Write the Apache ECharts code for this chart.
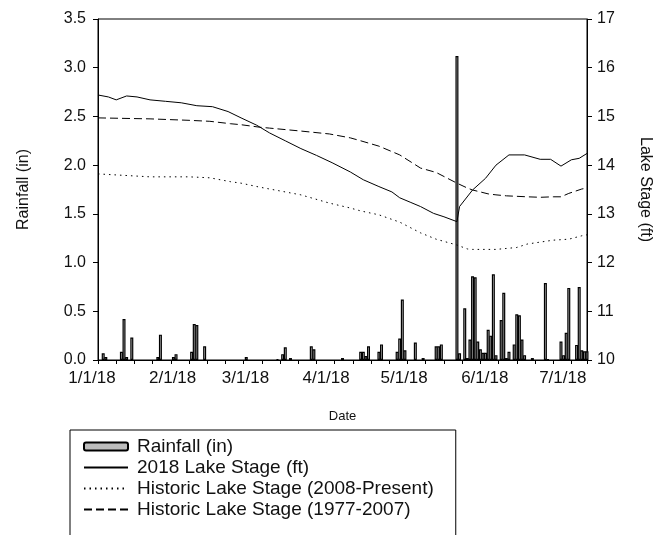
<!DOCTYPE html>
<html>
<head>
<meta charset="utf-8">
<script src="https://cdn.jsdelivr.net/npm/echarts@6/dist/echarts.min.js"></script>
<style>
    html, body { margin: 0; padding: 0; background: #fff; }
    #chart { width: 662px; height: 535px; }
</style>
</head>
<body>
<div id="chart"></div>
<script>
// day index: 0 = 1/1/18
const monthDays = [0, 31, 59, 90, 120, 151, 181]
const monthLabels = ['1/1/18', '2/1/18', '3/1/18', '4/1/18', '5/1/18', '6/1/18', '7/1/18']

const rainDays = [2, 3, 9, 10, 11, 13, 23, 24, 29, 30, 36, 37, 38, 41, 57, 69, 71, 72, 74, 82, 83, 94,
    101, 102, 103, 104, 108, 109, 115, 116, 117, 118, 122, 125, 130, 131, 132, 138, 139, 141, 142, 143,
    144, 145, 146, 147, 148, 149, 150, 151, 152, 153, 155, 156, 157, 158, 160, 161, 162, 163, 164, 167,
    172, 173, 178, 179, 180, 181, 184, 185, 186, 187, 188]
const rainfall = [0.07, 0.03, 0.085, 0.42, 0.03, 0.23, 0.03, 0.26, 0.03, 0.06, 0.085, 0.37, 0.36, 0.14, 0.03,
    0.01, 0.06, 0.13, 0.02, 0.14, 0.11, 0.02,
    0.085, 0.085, 0.04, 0.14, 0.085, 0.16, 0.085, 0.22, 0.62, 0.10, 0.18, 0.02, 0.14, 0.14, 0.16, 3.12, 0.07, 0.53, 0.02, 0.21,
    0.86, 0.85, 0.19, 0.11, 0.075, 0.075, 0.31, 0.25, 0.88, 0.05, 0.41, 0.69, 0.02, 0.085, 0.16, 0.47, 0.46, 0.21, 0.05, 0.02,
    0.79, 0.01, 0.19, 0.05, 0.28, 0.74, 0.155, 0.75, 0.10, 0.09, 0.09]

const stageDays = [0, 4, 7, 11, 15, 20, 26, 32, 38, 44, 50, 55, 61, 66, 72, 78, 84, 90, 97, 102, 108, 113, 116,
    120, 124, 129, 133, 138, 139, 144, 149, 153, 158, 164, 170, 174, 178, 182, 185, 188]
const stage2018 = [15.44, 15.40, 15.34, 15.42, 15.40, 15.34, 15.31, 15.28, 15.22, 15.20, 15.10, 14.97, 14.82, 14.66,
    14.50, 14.34, 14.20, 14.05, 13.86, 13.70, 13.56, 13.45, 13.33, 13.24, 13.15, 13.01, 12.94, 12.84, 13.15, 13.49,
    13.73, 14.00, 14.21, 14.21, 14.12, 14.12, 13.98, 14.11, 14.14, 14.24]

const histDays = [0, 10, 20, 35, 43, 51, 55, 62, 66, 78, 89, 97, 101, 108, 116, 124, 130, 138, 142, 144, 150,
    153, 157, 161, 165, 170, 175, 178, 181, 186, 188]
const stage2008 = [13.82, 13.79, 13.76, 13.76, 13.74, 13.66, 13.63, 13.55, 13.51, 13.39, 13.22, 13.12, 13.06, 12.98,
    12.83, 12.61, 12.48, 12.36, 12.28, 12.27, 12.27, 12.27, 12.29, 12.31, 12.38, 12.42, 12.46, 12.47, 12.48, 12.55, 12.57]
const stage1977 = [14.97, 14.96, 14.95, 14.92, 14.90, 14.85, 14.83, 14.78, 14.76, 14.70, 14.64, 14.56, 14.50, 14.39,
    14.21, 13.94, 13.85, 13.63, 13.53, 13.49, 13.41, 13.39, 13.37, 13.36, 13.35, 13.34, 13.35, 13.35, 13.42, 13.51, 13.53]

const pairs = (xs, ys) => xs.map((x, i) => [x, ys[i]])

const font = 'Liberation Sans, Arial, sans-serif'
// line series: hide the legend's symbol dot, keep just the line
const noDot = { color: '#000', opacity: 0 }

const chart = echarts.init(document.getElementById('chart'))
chart.setOption({
    animation: false,
    textStyle: { fontFamily: font, color: '#111' },
    grid: { left: 98, right: 75, top: 19, bottom: 175, show: true, borderColor: '#000', borderWidth: 1 },
    legend: {
        orient: 'vertical',
        left: 70,
        top: 430,
        height: 200,
        padding: [7, 22, 30, 13],
        itemWidth: 44,
        itemHeight: 8,
        itemGap: 2,
        borderColor: '#000',
        borderWidth: 1,
        borderRadius: 0,
        backgroundColor: '#fff',
        textStyle: { fontSize: 19, color: '#111', fontFamily: font, padding: [0, 0, 0, 4] },
        data: ['Rainfall (in)', '2018 Lake Stage (ft)', 'Historic Lake Stage (2008-Present)', 'Historic Lake Stage (1977-2007)']
    },
    xAxis: {
        type: 'value',
        min: 0,
        max: 188,
        interval: 7,
        name: 'Date',
        nameLocation: 'middle',
        nameGap: 50,
        nameTextStyle: { fontSize: 13, color: '#111' },
        splitLine: { show: false },
        axisLine: { lineStyle: { color: '#000' } },
        axisTick: { length: 4, lineStyle: { color: '#000' } },
        axisLabel: {
            customValues: monthDays,
            formatter: v => monthLabels[monthDays.indexOf(v)] || '',
            fontSize: 17,
            color: '#111',
            margin: 10,
            padding: [0, 12, 0, 0]
        }
    },
    yAxis: [
        {
            type: 'value',
            min: 0,
            max: 3.5,
            interval: 0.5,
            name: 'Rainfall (in)',
            nameLocation: 'middle',
            nameGap: 66,
            nameTextStyle: { fontSize: 16, color: '#111' },
            splitLine: { show: false },
            axisLine: { show: true, lineStyle: { color: '#000' } },
            axisTick: { show: true, length: 5, lineStyle: { color: '#000' } },
            axisLabel: { fontSize: 16, color: '#111', margin: 12, formatter: v => v.toFixed(1) }
        },
        {
            type: 'value',
            min: 10,
            max: 17,
            interval: 1,
            position: 'right',
            name: 'Lake Stage (ft)',
            nameLocation: 'middle',
            nameRotate: -90,
            nameGap: 50,
            nameTextStyle: { fontSize: 16, color: '#111' },
            splitLine: { show: false },
            axisLine: { show: true, lineStyle: { color: '#000' } },
            axisTick: { show: true, length: 5, lineStyle: { color: '#000' } },
            axisLabel: { fontSize: 16, color: '#111', margin: 10 }
        }
    ],
    series: [
        {
            name: 'Rainfall (in)',
            type: 'bar',
            yAxisIndex: 0,
            barWidth: 3,
            itemStyle: { color: '#bdbdbd', borderColor: '#000', borderWidth: 1.2 },
            data: pairs(rainDays, rainfall)
        },
        {
            name: '2018 Lake Stage (ft)',
            type: 'line',
            yAxisIndex: 1,
            symbol: 'none',
            lineStyle: { color: '#000', width: 1 },
            itemStyle: noDot,
            data: pairs(stageDays, stage2018)
        },
        {
            name: 'Historic Lake Stage (2008-Present)',
            type: 'line',
            yAxisIndex: 1,
            symbol: 'none',
            lineStyle: { color: '#000', width: 1, type: [1.5, 4] },
            itemStyle: noDot,
            data: pairs(histDays, stage2008)
        },
        {
            name: 'Historic Lake Stage (1977-2007)',
            type: 'line',
            yAxisIndex: 1,
            symbol: 'none',
            lineStyle: { color: '#000', width: 1, type: [8, 4] },
            itemStyle: noDot,
            data: pairs(histDays, stage1977)
        }
    ]
})
</script>
</body>
</html>
